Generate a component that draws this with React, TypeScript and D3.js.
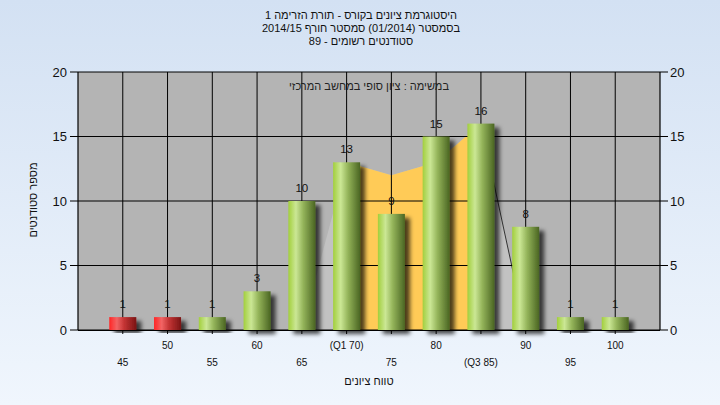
import React from "react";
import * as d3 from "d3";

const categories = [45, 50, 55, 60, 65, 70, 75, 80, 85, 90, 95, 100];
const counts = [1, 1, 1, 3, 10, 13, 9, 15, 16, 8, 1, 1];
const failing = [true, true, false, false, false, false, false, false, false, false, false, false];
const tickLabels = ["45", "50", "55", "60", "65", "(Q1 70)", "75", "80", "(Q3 85)", "90", "95", "100"];
const areaCats = [65, 70, 75, 80, 85, 90];
const areaVals = [0, 13, 12, 13, 16, 0];
const quartiles = [70, 85];
const yTicks = [0, 5, 10, 15, 20];
const titleLines = [
  "היסטוגרמת ציונים בקורס - תורת הזרימה 1",
  "בסמסטר  (01/2014)  סמסטר חורף 2014/15",
  "סטודנטים רשומים - 89",
];
const subtitle = "במשימה : ציון סופי במחשב המרכזי";
const xTitle = "טווח ציונים";
const yTitle = "מספר סטודנטים";

const W = 720, H = 405;
const L = 78, R = 660, T = 72, B = 330;
const FONT = "'Liberation Sans', Arial, 'DejaVu Sans', sans-serif";

export default function App() {
  const x = d3.scaleLinear().domain([40, 105]).range([L, R]);
  const y = d3.scaleLinear().domain([0, 20]).range([B, T]);
  const barW = 27;

  const area = d3.area<number>()
    .x((_, i) => x(areaCats[i]))
    .y0(y(0))
    .y1((d) => y(d));
  const qIdx = areaCats.map((c, i) => (c >= quartiles[0] && c <= quartiles[1] ? i : -1)).filter((i) => i >= 0);
  const qCats = qIdx.map((i) => areaCats[i]);
  const qVals = qIdx.map((i) => areaVals[i]);
  const qArea = d3.area<number>()
    .x((_, i) => x(qCats[i]))
    .y0(y(0))
    .y1((d) => y(d));
  const lastTwo = areaCats.slice(-2).map((c, i) => [x(c), y(areaVals.slice(-2)[i])] as [number, number]);
  const line = d3.line();

  return (
    <svg width={W} height={H} style={{ position: "absolute", left: 0, top: 0 }} fontFamily={FONT}>
      <defs>
        <linearGradient id="bg" x1="0" y1="0" x2="0" y2="1">
          <stop offset="0%" stopColor="#D3E1F3" />
          <stop offset="100%" stopColor="#F0F6FD" />
        </linearGradient>
        <linearGradient id="green" x1="0" y1="0" x2="1" y2="0">
          <stop offset="0%" stopColor="#A2CF3C" />
          <stop offset="28%" stopColor="#CBE795" />
          <stop offset="55%" stopColor="#94B45A" />
          <stop offset="100%" stopColor="#4A6522" />
        </linearGradient>
        <linearGradient id="red" x1="0" y1="0" x2="1" y2="0">
          <stop offset="0%" stopColor="#FF2424" />
          <stop offset="28%" stopColor="#F26464" />
          <stop offset="55%" stopColor="#C43434" />
          <stop offset="100%" stopColor="#7A1414" />
        </linearGradient>
        <filter id="shadow" x="-30%" y="-10%" width="180%" height="130%">
          <feDropShadow dx="5" dy="4" stdDeviation="2.2" floodColor="#000" floodOpacity="0.7" />
        </filter>
      </defs>
      <rect x={0} y={0} width={W} height={H} fill="url(#bg)" />

      {titleLines.map((t, i) => (
        <text key={i} x={361} y={19 + i * 13} textAnchor="middle" direction="rtl" fontSize={11} fill="#111">
          {t}
        </text>
      ))}

      <rect x={L} y={T} width={R - L} height={B - T} fill="#B4B4B4" />

      {/* area series */}
      <path d={area(areaVals) || ""} fill="#C2C2C2" />
      <path d={qArea(qVals) || ""} fill="#FFCB57" />
      <path d={line(lastTwo) || ""} stroke="#333" strokeWidth={1} fill="none" />

      {/* grid */}
      {yTicks.map((t) => (
        <line key={"h" + t} x1={L} x2={R} y1={y(t)} y2={y(t)} stroke="#000" strokeWidth={1} />
      ))}
      {categories.map((c) => (
        <line key={"v" + c} x1={x(c)} x2={x(c)} y1={T} y2={B + 4} stroke="#000" strokeWidth={1} />
      ))}

      <text x={(L + R) / 2} y={90} textAnchor="middle" direction="rtl" fontSize={11} fill="#222">
        {subtitle}
      </text>

      {/* bars */}
      {categories.map((c, i) => (
        <rect
          key={"b" + c}
          x={x(c) - barW / 2}
          y={y(counts[i])}
          width={barW}
          height={y(0) - y(counts[i])}
          fill={failing[i] ? "url(#red)" : "url(#green)"}
          filter="url(#shadow)"
        />
      ))}
      {categories.map((c, i) => (
        <text key={"l" + c} x={x(c)} y={y(counts[i]) - 9} textAnchor="middle" fontSize={11.5} fill="#111">
          {counts[i]}
        </text>
      ))}

      {/* axes */}
      <line x1={L} x2={L} y1={T} y2={B} stroke="#000" strokeWidth={1.2} />
      <line x1={R} x2={R} y1={T} y2={B} stroke="#000" strokeWidth={1.2} />
      <line x1={L} x2={R} y1={B + 0.5} y2={B + 0.5} stroke="#000" strokeWidth={1.2} />
      {yTicks.map((t) => (
        <g key={"yt" + t}>
          <line x1={L - 8} x2={L} y1={y(t)} y2={y(t)} stroke="#000" />
          <text x={L - 11} y={y(t) + 4.5} textAnchor="end" fontSize={13} fill="#111">{t}</text>
          <line x1={R} x2={R + 8} y1={y(t)} y2={y(t)} stroke="#000" />
          <text x={R + 10} y={y(t) + 4.5} textAnchor="start" fontSize={13} fill="#111">{t}</text>
        </g>
      ))}
      {categories.map((c, i) => (
        <text key={"xt" + c} x={x(c)} y={i % 2 === 1 ? 349 : 366} textAnchor="middle" fontSize={10} fill="#111">
          {tickLabels[i]}
        </text>
      ))}
      <text x={369} y={385} textAnchor="middle" direction="rtl" fontSize={11} fill="#111">{xTitle}</text>
      <text transform="translate(37,200) rotate(-90)" textAnchor="middle" direction="rtl" fontSize={11} fill="#111">
        {yTitle}
      </text>
    </svg>
  );
}
